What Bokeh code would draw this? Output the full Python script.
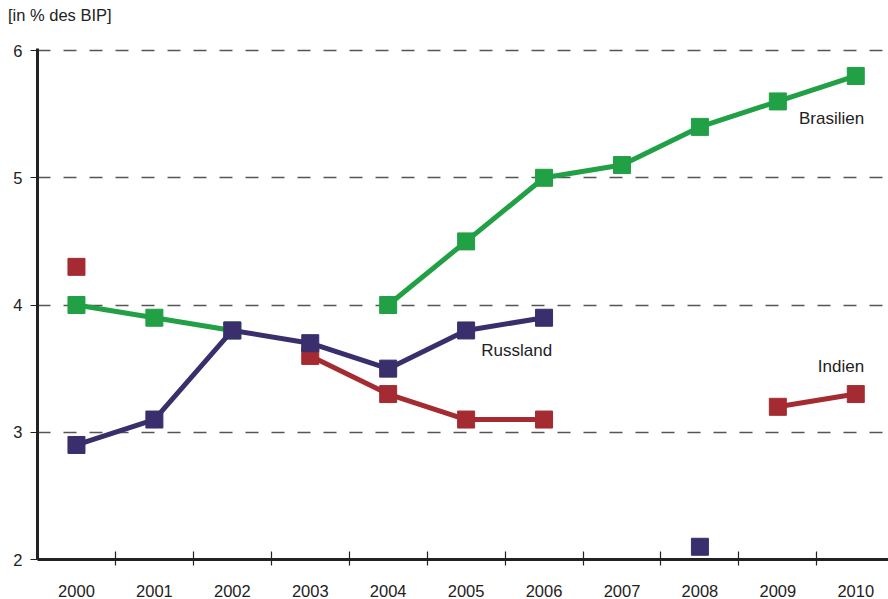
import numpy as np
from bokeh.plotting import figure
from bokeh.models import FixedTicker, Range1d, Label, Div
from bokeh.layouts import column
from bokeh.embed import file_html
from bokeh.resources import INLINE

years = [2000, 2001, 2002, 2003, 2004, 2005, 2006, 2007, 2008, 2009, 2010]
nan = float("nan")
brasilien = [4.0, 3.9, 3.8, nan, 4.0, 4.5, 5.0, 5.1, 5.4, 5.6, 5.8]
russland = [2.9, 3.1, 3.8, 3.7, 3.5, 3.8, 3.9, nan, 2.1, nan, nan]
indien = [4.3, nan, nan, 3.6, 3.3, 3.1, 3.1, nan, nan, 3.2, 3.3]
y_ticks = [2, 3, 4, 5, 6]
x_minor = [2000.5, 2001.5, 2002.5, 2003.5, 2004.5, 2005.5, 2006.5, 2007.5, 2008.5, 2009.5]

GREEN = "#21a045"
PURPLE = "#3a2f6c"
RED = "#a42b31"
FONT = "Liberation Sans"

title = Div(text="[in % des BIP]", width=300, height=26, margin=(4, 0, 0, 8),
            styles={"font-family": FONT, "font-size": "16.5px", "color": "#222222"})

p = figure(width=888, height=569, output_backend="svg", toolbar_location=None,
           x_range=Range1d(1999.5, 2010.42), y_range=Range1d(2, 6.016),
           min_border_left=37, min_border_right=0, min_border_top=18, min_border_bottom=39)
p.outline_line_color = None
p.background_fill_color = "white"
p.border_fill_color = "white"

p.xgrid.visible = False
p.ygrid.ticker = FixedTicker(ticks=[3, 4, 5, 6])
p.ygrid.grid_line_color = "#555555"
p.ygrid.grid_line_dash = "13 13"
p.ygrid.grid_line_width = 1.3

# axes
p.xaxis.ticker = FixedTicker(ticks=years, minor_ticks=x_minor)
p.xaxis.major_tick_in = 0
p.xaxis.major_tick_out = 0
p.xaxis.minor_tick_in = 8
p.xaxis.minor_tick_out = 6
p.xaxis.minor_tick_line_color = "#222222"
p.xaxis.minor_tick_line_width = 1.2
p.xaxis.axis_line_width = 3
p.xaxis.axis_line_color = "#222222"
p.xaxis.major_label_standoff = 19
p.xaxis.major_label_text_font = FONT
p.xaxis.major_label_text_font_size = "16.5px"
p.xaxis.major_label_text_color = "#222222"

p.yaxis.ticker = FixedTicker(ticks=y_ticks)
p.yaxis.major_tick_in = 0
p.yaxis.major_tick_out = 7
p.yaxis.major_tick_line_color = "#222222"
p.yaxis.major_tick_line_width = 1.2
p.yaxis.minor_tick_line_color = None
p.yaxis.axis_line_width = 3
p.yaxis.axis_line_color = "#222222"
p.yaxis.major_label_standoff = 8
p.yaxis.major_label_text_font = FONT
p.yaxis.major_label_text_font_size = "16.5px"
p.yaxis.major_label_text_color = "#222222"

# series
for vals, col in [(indien, RED), (brasilien, GREEN), (russland, PURPLE)]:
    p.line(years, vals, line_color=col, line_width=5)
    p.scatter(years, vals, marker="square", size=17, fill_color=col, line_color=col)

lab_style = dict(text_font=FONT, text_font_size="17px", text_color="#222222",
                 text_align="center", text_baseline="middle")
p.add_layout(Label(x=2009.69, y=5.467, text="Brasilien", **lab_style))
p.add_layout(Label(x=2005.65, y=3.64, text="Russland", **lab_style))
p.add_layout(Label(x=2009.81, y=3.52, text="Indien", **lab_style))

layout = column(title, p, spacing=0)

open("out.html", "w").write(file_html(layout, INLINE))
